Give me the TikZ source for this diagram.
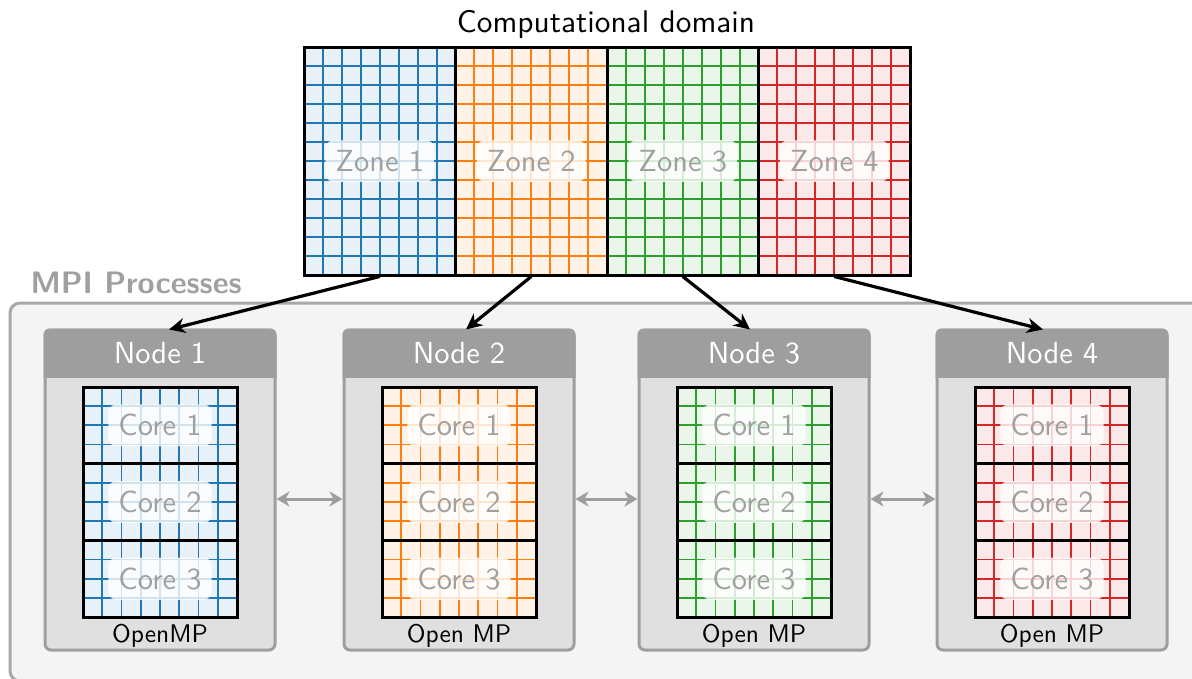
\documentclass[tikz,border=0pt]{standalone}
\usepackage{fontspec}
\setsansfont{lmsans10-regular.otf}[BoldFont=lmsans10-bold.otf]
\usetikzlibrary{arrows.meta,calc}
\definecolor{cblue}{HTML}{1F77B4}
\definecolor{corange}{HTML}{FF7F0E}
\definecolor{cgreen}{HTML}{2CA02C}
\definecolor{cred}{HTML}{D62728}
\definecolor{hdrgray}{HTML}{9E9E9E}
\definecolor{bodygray}{HTML}{E0E0E0}
\definecolor{outerfill}{HTML}{F4F4F4}
\definecolor{outerline}{HTML}{A8A8A8}
\definecolor{labgray}{HTML}{A0A0A0}
\begin{document}
\begin{tikzpicture}[x=1pt,y=-1pt,
  bigfont/.style={font=\sffamily\fontsize{30.5}{36}\selectfont},
  lbl/.style={bigfont, fill=white, fill opacity=0.8, text opacity=1, text=labgray,
    rounded corners=8pt, inner xsep=10pt, inner ysep=10pt},
  framebox/.style={draw=black, line width=3pt, inner sep=0pt},
  gridline/.style={line width=1.9pt},
  nodebody/.style={draw=hdrgray, fill=bodygray, line width=3pt, rounded corners=6pt, inner sep=0pt,
    minimum width=230pt, minimum height=320pt},
  hdrtext/.style={bigfont, text=white},
  omp/.style={font=\sffamily\fontsize{25.5}{30}\selectfont, anchor=base},
  arr/.style={line width=3.2pt, -{Stealth[length=16pt,width=15pt,inset=5pt]}},
  garr/.style={draw=hdrgray, line width=3pt, {Stealth[length=13pt,width=15pt,inset=4pt]}-{Stealth[length=13pt,width=15pt,inset=4pt]}}
]
\path[use as bounding box] (0,0) rectangle (1192,678);
\clip (0,0) rectangle (1192,678);

% outer MPI box
\draw[fill=outerfill, draw=outerline, line width=3pt, rounded corners=10pt] (10,303) rectangle (1215,681);
\node[anchor=base west, font=\sffamily\bfseries\fontsize{31}{36}\selectfont, text=labgray] (mpi) at (27,293) {MPI Processes};

% title
\node[font=\sffamily\fontsize{31.3}{36}\selectfont, anchor=base] (title) at (606,32) {Computational domain};

% zones
\foreach \i/\c in {1/cblue,2/corange,3/cgreen,4/cred}{
  \pgfmathsetmacro{\xa}{304+(\i-1)*151.5}
  \fill[\c!10!white] (\xa,47) rectangle ++(151.5,228);
  \foreach \j in {1,...,7}{
    \draw[\c, gridline] ({\xa+\j*18.9375},47) -- ++(0,228);
  }
  \foreach \k in {1,...,11}{
    \draw[\c, gridline] (\xa,{47+\k*19}) -- ++(151.5,0);
  }
  \node[framebox, minimum width=151.5pt, minimum height=228pt] (z\i) at ({\xa+75.75},161) {};
  \node[lbl] (zl\i) at (z\i.center) {Zone \i};
}

% compute nodes
\foreach \i/\c/\cx/\om in {1/cblue/160/OpenMP,2/corange/459/Open MP,3/cgreen/754/Open MP,4/cred/1052/Open MP}{
  \node[nodebody] (n\i) at (\cx,490) {};
  \begin{scope}
    \clip (\cx-120,320) rectangle (\cx+120,377);
    \fill[hdrgray, rounded corners=6pt] (\cx-116.5,328.5) rectangle (\cx+116.5,651.5);
  \end{scope}
  \node[hdrtext] (h\i) at (\cx,353.5) {Node \i};
  % grid
  \fill[\c!10!white] (\cx-77,387) rectangle (\cx+77,617);
  \foreach \j in {1,...,7}{
    \draw[\c, gridline] ({\cx-77+\j*19.25},387) -- ++(0,230);
  }
  \foreach \k in {1,...,11}{
    \draw[\c, gridline] (\cx-77,{387+\k*19.1667}) -- ++(154,0);
  }
  \foreach \k in {1,2,3}{
    \node[framebox, minimum width=154pt, minimum height=76.667pt] (c\i-\k) at (\cx,{387+(\k-0.5)*76.667}) {};
    \node[lbl] (cl\i-\k) at (c\i-\k.center) {Core \k};
  }
  \node[omp] (o\i) at (\cx,642) {\om};
}

% arrows from zones to nodes
\draw[arr] (z1.south) -- ([xshift=9pt,yshift=-1pt]n1.north);
\draw[arr] (z2.south) -- ([xshift=7pt,yshift=-1pt]n2.north);
\draw[arr] (z3.south) -- ([xshift=-4pt,yshift=-1pt]n3.north);
\draw[arr] (z4.south) -- ([xshift=-9pt,yshift=-1pt]n4.north);

% exchange arrows
\draw[garr] ([yshift=-9pt]n1.east) -- ([yshift=-9pt]n2.west);
\draw[garr] ([yshift=-9pt]n2.east) -- ([yshift=-9pt]n3.west);
\draw[garr] ([yshift=-9pt]n3.east) -- ([yshift=-9pt]n4.west);
\end{tikzpicture}
\end{document}
